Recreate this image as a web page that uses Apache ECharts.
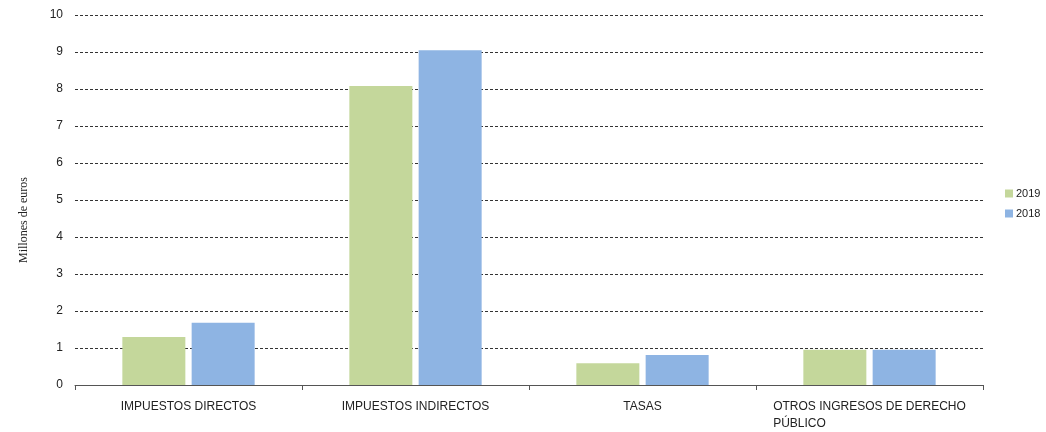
<!DOCTYPE html>
<html>
<head>
<meta charset="utf-8">
<script src="https://cdn.jsdelivr.net/npm/echarts@6/dist/echarts.min.js"></script>
<style>
  html, body { margin: 0; padding: 0; background: #fff; }
  #chart { width: 1046px; height: 432px; }
</style>
</head>
<body>
<div id="chart"></div>
<script>
// categorías
var categorias = ['IMPUESTOS DIRECTOS', 'IMPUESTOS INDIRECTOS', 'TASAS', 'OTROS INGRESOS DE DERECHO\nPÚBLICO']
// millones de euros
var valores2019 = [1.30, 8.08, 0.59, 0.95]
var valores2018 = [1.68, 9.05, 0.81, 0.95]
var ticksY = [0, 10, 1]

var chart = echarts.init(document.getElementById('chart'))
chart.setOption({
  animation: false,
  textStyle: { fontFamily: 'Liberation Sans, Arial, sans-serif' },
  grid: { left: 75, right: 63, top: 15, bottom: 47 },
  legend: {
    orient: 'vertical',
    left: 1000,
    top: 183,
    itemWidth: 8,
    itemHeight: 8,
    itemGap: 9,
    icon: 'rect',
    textStyle: { fontSize: 11, color: '#222', padding: [0, 0, 0, -2] },
    data: ['2019', '2018']
  },
  xAxis: {
    type: 'category',
    data: categorias,
    axisLine: { lineStyle: { color: '#555', width: 1 } },
    axisTick: { show: true, length: 5, lineStyle: { color: '#555' } },
    axisLabel: {
      interval: 0,
      margin: 13,
      fontSize: 12,
      color: '#222',
      lineHeight: 17,
      formatter: function (v) {
        return v.split('\n').map(function (l) { return '{a|' + l + '}' }).join('\n')
      },
      rich: { a: { align: 'left', fontSize: 12, color: '#222', lineHeight: 17 } }
    }
  },
  yAxis: {
    type: 'value',
    min: ticksY[0],
    max: ticksY[1],
    interval: ticksY[2],
    name: 'Millones de euros',
    nameLocation: 'middle',
    nameGap: 45,
    nameRotate: 90,
    nameTextStyle: {
      fontFamily: 'Liberation Serif, Times New Roman, serif',
      fontSize: 12,
      color: '#222',
      padding: [0, 40, 0, 0]
    },
    axisLine: { show: false },
    axisTick: { show: false },
    axisLabel: { fontSize: 12, color: '#222', margin: 12 },
    splitLine: { lineStyle: { color: '#333', type: [3, 2], width: 1 } }
  },
  series: [
    {
      name: '2019',
      type: 'bar',
      data: valores2019,
      barWidth: 63,
      barGap: '10%',
      itemStyle: { color: '#C4D79B' }
    },
    {
      name: '2018',
      type: 'bar',
      data: valores2018,
      barWidth: 63,
      barGap: '10%',
      itemStyle: { color: '#8EB4E3' }
    }
  ]
})
</script>
</body>
</html>
